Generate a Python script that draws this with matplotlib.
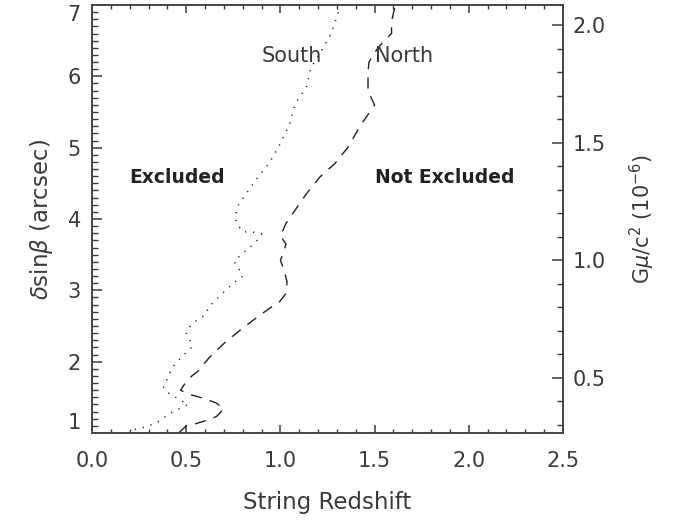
import numpy as np
import matplotlib.pyplot as plt
from matplotlib.ticker import MultipleLocator

# string redshift vs deficit angle, north and south limits
north_z = [0.46, 0.50, 0.55, 0.60, 0.66, 0.70, 0.66, 0.60, 0.52, 0.47,
           0.49, 0.53, 0.56, 0.62, 0.71, 0.80, 0.89, 0.95, 0.99, 1.03,
           1.035, 1.02, 1.00, 1.015, 1.03, 1.00, 1.03, 1.09, 1.14, 1.21,
           1.29, 1.36, 1.42, 1.50, 1.48, 1.465, 1.465, 1.47, 1.51, 1.55,
           1.59, 1.59, 1.61]
north_d = [1.00, 1.10, 1.13, 1.17, 1.23, 1.34, 1.42, 1.48, 1.54, 1.60,
           1.68, 1.80, 1.86, 2.05, 2.28, 2.47, 2.65, 2.76, 2.82, 2.96,
           3.12, 3.28, 3.42, 3.52, 3.65, 3.76, 3.94, 4.17, 4.36, 4.59,
           4.78, 5.01, 5.29, 5.60, 5.71, 5.80, 6.06, 6.20, 6.37, 6.50,
           6.60, 6.77, 7.00]

south_z = [0.19, 0.21, 0.25, 0.29, 0.32, 0.36, 0.40, 0.43, 0.47, 0.51,
           0.47, 0.43, 0.40, 0.38, 0.395, 0.41, 0.43, 0.46, 0.50, 0.53,
           0.52, 0.50, 0.52, 0.56, 0.60, 0.62, 0.65, 0.69, 0.72, 0.76,
           0.80, 0.78, 0.755, 0.79, 0.83, 0.87, 0.90, 0.87, 0.84, 0.80,
           0.77, 0.76, 0.77, 0.78, 0.81, 0.87, 0.94, 1.00, 1.05, 1.08,
           1.14, 1.16, 1.22, 1.27, 1.32]
south_d = [1.00, 1.04, 1.06, 1.09, 1.12, 1.17, 1.25, 1.30, 1.35, 1.40,
           1.46, 1.52, 1.57, 1.64, 1.73, 1.83, 1.93, 2.02, 2.13, 2.20,
           2.30, 2.40, 2.49, 2.59, 2.65, 2.76, 2.85, 2.95, 3.03, 3.12,
           3.20, 3.30, 3.40, 3.50, 3.58, 3.68, 3.79, 3.81, 3.82, 3.82,
           3.93, 4.03, 4.13, 4.22, 4.32, 4.55, 4.78, 5.06, 5.34, 5.62,
           5.86, 6.11, 6.37, 6.60, 7.00]

ink = '#222222'
txt = '#3a3a3a'

fig = plt.figure(figsize=(6.78, 5.27), dpi=100)
ax = fig.add_axes([92/678, 1 - 433/527, 471/678, 428/527])

ax.plot(north_z, north_d, color=ink, lw=1.0, dashes=(8, 6))
ax.plot(south_z, south_d, color=ink, lw=1.1, dashes=(0.8, 4.5))

ax.set_xlim(0, 2.5)
ax.set_ylim(1, 7)
ax.xaxis.set_major_locator(MultipleLocator(0.5))
ax.xaxis.set_minor_locator(MultipleLocator(0.1))
ax.set_yticks([1, 2, 3, 4, 5, 6, 7])
ax.yaxis.set_minor_locator(MultipleLocator(0.1))
ax.xaxis.set_major_formatter(plt.FuncFormatter(lambda v, p: f"{v:.1f}"))

ax.tick_params(which='both', direction='in', top=True, right=False,
               colors=txt, labelsize=15)
ax.tick_params(axis='x', which='major', length=6, width=1.1, pad=13)
ax.tick_params(axis='x', which='minor', length=3, width=1.0)
ax.tick_params(axis='y', which='major', length=7, width=1.1, pad=8)
ax.tick_params(axis='y', which='minor', length=4, width=1.0)

# end labels sit inside the axis range, as in the original
ylabs = ax.get_yticklabels()
ylabs[0].set_va('bottom')
ylabs[-1].set_va('top')

ax.set_xlabel("String Redshift", fontsize=16.5, color=txt, labelpad=14)
ax.set_ylabel(r"$\delta$sin$\beta$ (arcsec)", fontsize=16.5, color=txt,
              labelpad=9)

# right-hand scale
ax2 = ax.twinx()
ax2.set_ylim(0.2655, 2.085)
ax2.yaxis.set_major_locator(MultipleLocator(0.5))
ax2.yaxis.set_minor_locator(MultipleLocator(0.1))
ax2.yaxis.set_major_formatter(plt.FuncFormatter(lambda v, p: f"{v:.1f}"))
ax2.tick_params(which='both', direction='in', colors=txt, labelsize=15)
ax2.tick_params(which='major', length=8, width=1.1, pad=7)
ax2.tick_params(which='minor', length=4.5, width=1.0)
ax2.set_ylabel(r"G$\mu$/c$^2$ (10$^{-6}$)", fontsize=15, color=txt,
               labelpad=16)

for a in (ax, ax2):
    for s in a.spines.values():
        s.set_color('#444444')
        s.set_linewidth(1.2)

ax.text(0.90, 6.28, "South", fontsize=15, color=txt, va='center')
ax.text(1.50, 6.28, "North", fontsize=15, color=txt, va='center')
ax.text(0.20, 4.58, "Excluded", fontsize=13.5, fontweight='bold',
        color=ink, va='center')
ax.text(1.50, 4.58, "Not Excluded", fontsize=13.5, fontweight='bold',
        color=ink, va='center')

fig.savefig("out.png", dpi=100)
